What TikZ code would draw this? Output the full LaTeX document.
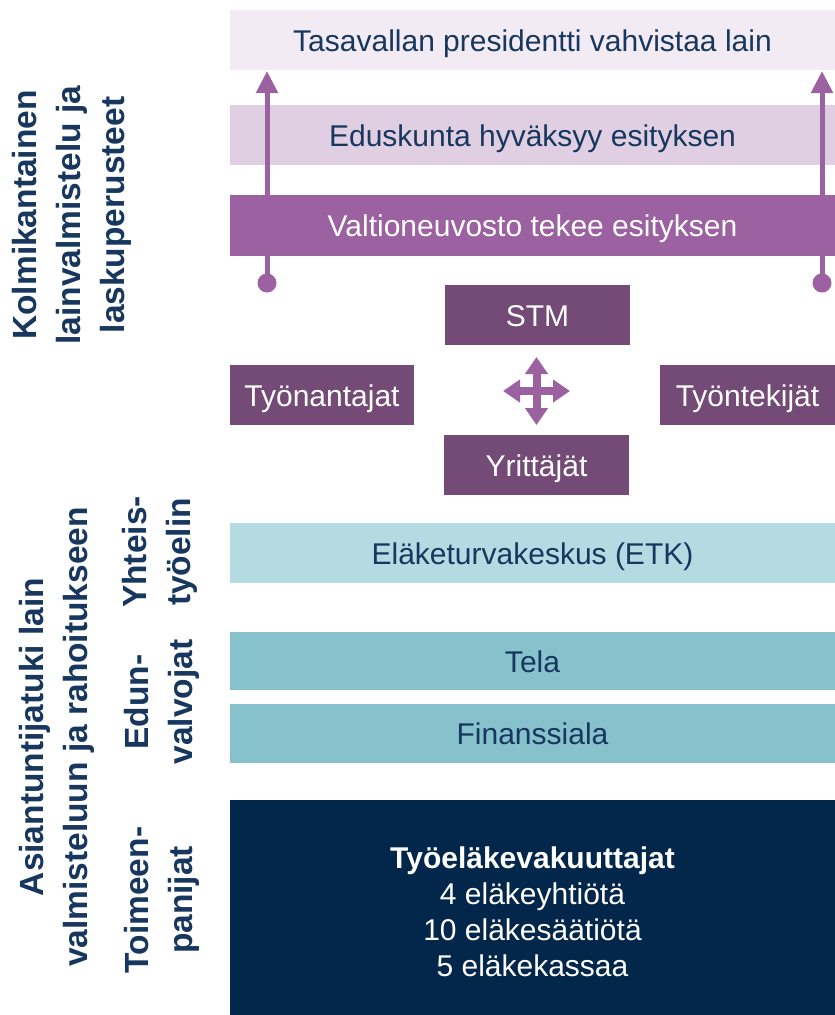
\documentclass[tikz,border=0pt]{standalone}
\usepackage{fontspec}
\setmainfont{Liberation Sans}
\usetikzlibrary{
    arrows.meta,
    positioning
}
\definecolor{navytext}{HTML}{17375E}
\definecolor{presfill}{HTML}{F2EBF4}
\definecolor{edusfill}{HTML}{E0CFE2}
\definecolor{midpurple}{HTML}{9B61A0}
\definecolor{darkpurple}{HTML}{744A77}
\definecolor{etkfill}{HTML}{B4DAE2}
\definecolor{tealfill}{HTML}{86C1CC}
\definecolor{navyfill}{HTML}{02274B}

\begin{document}
\begin{tikzpicture}[x=1pt, y=-1pt,
    band/.style={rectangle, inner sep=0pt, outer sep=0pt,
        minimum width=605pt, minimum height=60pt, text=navytext,
        text height=22pt, text depth=0pt,
        font=\fontsize{30}{36}\selectfont},
    party/.style={rectangle, inner sep=0pt, outer sep=0pt, fill=darkpurple,
        text=white, minimum width=185pt, minimum height=60pt,
        text height=22pt, text depth=0pt,
        font=\fontsize{30}{36}\selectfont},
    sidelabel/.style={rotate=90, align=center, text=navytext,
        font=\fontsize{33.5}{44}\selectfont\bfseries},
    riser/.style={draw=midpurple, line width=5pt,
        -{Triangle[width=21pt, length=22pt]}},
    cross/.style={draw=midpurple, line width=8pt,
        {Triangle[width=22pt, length=17pt]}-{Triangle[width=22pt, length=17pt]}}
]
    \useasboundingbox (0, 0) rectangle (835, 1015);

    % law making bands
    \node[band, fill=presfill] (pres) at (532.5, 40) {Tasavallan presidentti vahvistaa lain};
    \node[band, fill=edusfill] (edus) at (532.5, 135) {Eduskunta hyväksyy esityksen};
    \node[band, fill=midpurple, text=white, minimum height=61pt] (valtio) at (532.5, 225.5) {Valtioneuvosto tekee esityksen};

    \coordinate (lfoot) at (267, 283);
    \coordinate (ltop) at (267, 71);
    \coordinate (rfoot) at (822, 283);
    \coordinate (rtop) at (822, 71);
    \draw[riser] (lfoot) -- (ltop);
    \draw[riser] (rfoot) -- (rtop);
    \fill[midpurple] (lfoot) circle (9.5);
    \fill[midpurple] (rfoot) circle (9.5);

    % tripartite parties
    \node[party] (stm) at (537.5, 315) {STM};
    \node[party, minimum width=184pt] (tyonantajat) at (322, 395) {Työnantajat};
    \node[party, minimum width=175pt] (tyontekijat) at (747.5, 395) {Työntekijät};
    \node[party] (yrittajat) at (536.5, 465) {Yrittäjät};

    \coordinate (xw) at (503, 391);
    \coordinate (xe) at (570, 391);
    \coordinate (xn) at (536.5, 357);
    \coordinate (xs) at (536.5, 425);
    \draw[cross] (xw) -- (xe);
    \draw[cross] (xn) -- (xs);

    % expert support
    \node[band, fill=etkfill] (etk) at (532.5, 553) {Eläketurvakeskus (ETK)};
    \node[band, fill=tealfill, minimum height=58pt] (tela) at (532.5, 661) {Tela};
    \node[band, fill=tealfill, minimum height=59pt] (finanssi) at (532.5, 733.5) {Finanssiala};
    \node[band, fill=navyfill, minimum height=215pt] (vakuuttajat) at (532.5, 907.5) {};
    \node[align=center, text=white, font=\fontsize{30}{36}\selectfont] (vakuuttajatxt) at (532.5, 912)
        {\textbf{Työeläkevakuuttajat}\\4 eläkeyhtiötä\\10 eläkesäätiötä\\5 eläkekassaa};

    % side labels
    \node[sidelabel] (kolmikanta) at (72, 215) {Kolmikantainen\\lainvalmistelu ja\\laskuperusteet};
    \node[sidelabel] (asiantuntija) at (57, 737) {Asiantuntijatuki lain\\valmisteluun ja rahoitukseen};
    \node[sidelabel] (yhteis) at (160, 552) {Yhteis-\\työelin};
    \node[sidelabel] (edun) at (162, 702) {Edun-\\valvojat};
    \node[sidelabel] (toimeen) at (162, 900) {Toimeen-\\panijat};
\end{tikzpicture}
\end{document}
